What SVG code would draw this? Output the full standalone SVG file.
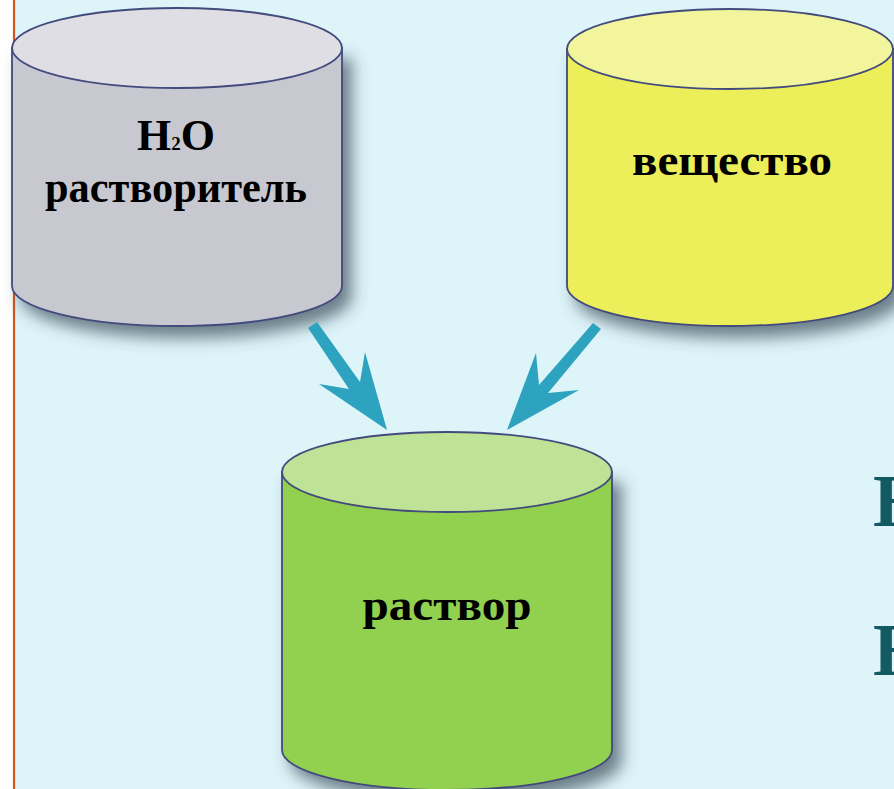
<svg xmlns="http://www.w3.org/2000/svg" width="894" height="789" viewBox="0 0 894 789">
  <style>
    .outline { stroke: #434a7c; stroke-width: 1.8; }
    .label { font-family: "Liberation Serif", "Times New Roman", serif; font-weight: bold; font-size: 44px; fill: #000; text-anchor: middle; }
    .edge-letter { font-family: "Liberation Serif", "Times New Roman", serif; font-weight: bold; font-size: 74px; fill: #135a62; }
    .arrow { fill: #2ea3c0; }
  </style>
  <defs>
    <filter id="shadow" x="-20%" y="-20%" width="150%" height="150%">
      <feDropShadow dx="9" dy="11" stdDeviation="8" flood-color="#3e4c58" flood-opacity="0.7"/>
    </filter>
  </defs>

  <!-- page background -->
  <rect x="0" y="0" width="894" height="789" fill="#ffffff"/>
  <rect x="14" y="0" width="880" height="789" fill="#ddf4f9"/>
  <line x1="14" y1="0" x2="14" y2="789" stroke="#d2581e" stroke-width="2.2"/>

  <!-- headings running off the right edge -->
  <text class="edge-letter" x="873" y="526">Н</text>
  <text class="edge-letter" x="873" y="675">Н</text>

  <!-- solvent -->
  <g id="solvent">
    <path class="outline" filter="url(#shadow)" fill="#c8c8d1" d="M12,48 V286 A165,40 0 0 0 342,286 V48 Z"/>
    <ellipse class="outline" cx="177" cy="48" rx="165" ry="40" fill="#dedee4"/>
    <text class="label" x="176" y="150">H<tspan font-size="19">2</tspan>O</text>
    <text class="label" x="176" y="202" textLength="262" lengthAdjust="spacingAndGlyphs">растворитель</text>
  </g>

  <!-- substance -->
  <g id="substance">
    <path class="outline" filter="url(#shadow)" fill="#ecee5a" d="M567,49 V286 A163,40 0 0 0 893,286 V49 Z"/>
    <ellipse class="outline" cx="730" cy="49" rx="163" ry="40" fill="#f3f59c"/>
    <text class="label" x="732" y="175" textLength="200" lengthAdjust="spacingAndGlyphs">вещество</text>
  </g>

  <!-- solution -->
  <g id="solution">
    <path class="outline" filter="url(#shadow)" fill="#92d050" d="M282,472 V750 A165,40 0 0 0 612,750 V472 Z"/>
    <ellipse class="outline" cx="447" cy="472" rx="165" ry="40" fill="#bee396"/>
    <text class="label" x="447" y="620" textLength="169" lengthAdjust="spacingAndGlyphs">раствор</text>
  </g>

  <!-- connectors -->
  <g id="connectors">
    <polygon class="arrow" points="317,322 360,382 365,352 387,430 319,384 349,389 308,328"/>
    <polygon class="arrow" points="593,323 539,385 536,353 507,430 579,390 548,393 601,329"/>
  </g>
</svg>
